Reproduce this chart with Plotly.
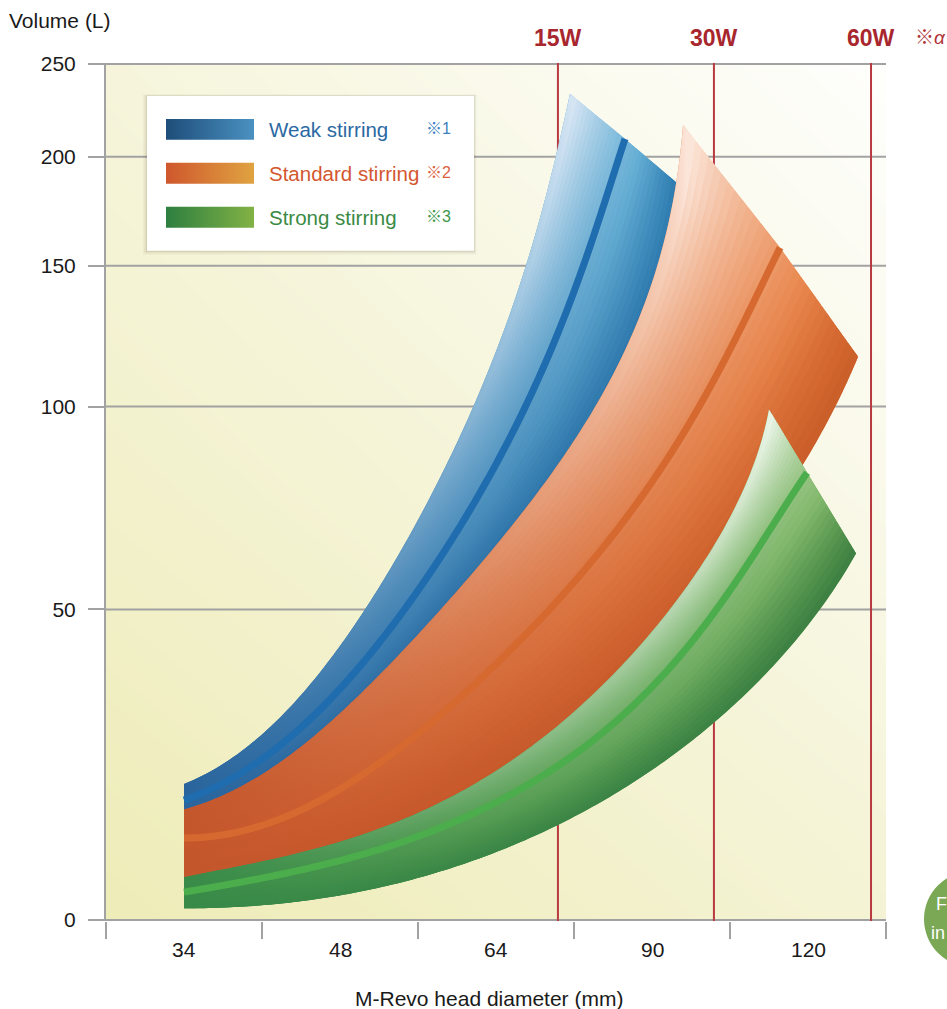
import numpy as np
import plotly.graph_objects as go

# ---------------------------------------------------------------- data
DIAMETER_LABELS = ["34", "48", "64", "90", "120"]          # one slot per head size
VOLUME_TICKS = [0, 50, 100, 150, 200, 250]
VOLUME_TICK_POS = [0, 311, 514, 655, 764, 857]             # stretched volume scale

POWER_LABELS = ["15W", "30W", "60W"]
POWER_X = [2.397, 3.397, 4.404]

SERIES_NAMES = ["Weak stirring", "Standard stirring", "Strong stirring"]
SERIES_NOTES = ["※1", "※2", "※3"]

# each band: upper-left edge, centre stripe, lower-right edge (slot position, litres)
BLUE_UPPER_X = [0, 0.314, 0.622, 0.936, 1.173, 1.519, 1.865, 2.160, 2.391, 2.474]
BLUE_UPPER_V = [21.9, 25.7, 33.1, 42.3, 50.0, 73.9, 100.0, 146.5, 200.0, 233.9]
BLUE_MID_X = [0, 0.487, 0.776, 1.064, 1.417, 1.808, 2.199, 2.526, 2.679, 2.827]
BLUE_MID_V = [19.3, 25.7, 31.8, 38.6, 50.0, 73.9, 100.0, 144.7, 176.1, 209.7]
BLUE_LOWER_X = [0, 0.647, 1.000, 1.353, 1.667, 2.186, 2.712, 3.026, 3.103, 3.173]
BLUE_LOWER_V = [16.4, 24.4, 31.0, 38.7, 48.1, 71.9, 98.3, 141.1, 161.5, 187.2]

ORANGE_UPPER_X = [0, 0.615, 0.968, 1.308, 1.622, 2.141, 2.667, 2.987, 3.160, 3.199]
ORANGE_UPPER_V = [17.8, 25.7, 32.5, 40.2, 49.5, 73.9, 100.0, 144.7, 187.6, 217.2]
ORANGE_MID_X = [0, 0.231, 0.487, 0.936, 1.385, 1.878, 2.378, 2.859, 3.340, 3.596, 3.821]
ORANGE_MID_V = [13.2, 14.0, 15.6, 19.3, 27.7, 38.6, 52.2, 72.4, 105.0, 130.5, 158.3]
ORANGE_LOWER_X = [0, 0.744, 1.385, 2.026, 2.667, 3.179, 3.564, 3.821, 3.968, 4.173, 4.321]
ORANGE_LOWER_V = [6.1, 10.0, 15.4, 23.8, 35.4, 48.2, 63.3, 75.6, 86.0, 102.1, 117.7]

GREEN_UPPER_X = [0, 0.744, 1.385, 2.026, 2.667, 3.308, 3.519, 3.647, 3.750]
GREEN_UPPER_V = [6.9, 10.8, 16.1, 24.4, 37.3, 61.3, 72.7, 86.0, 99.3]
GREEN_MID_X = [0, 0.744, 1.385, 2.026, 2.667, 3.179, 3.500, 3.756, 3.994]
GREEN_MID_V = [4.5, 8.0, 12.5, 19.3, 29.7, 42.6, 54.7, 69.5, 83.7]
GREEN_LOWER_X = [0, 0.487, 1.064, 1.705, 2.346, 2.987, 3.628, 4.013, 4.308]
GREEN_LOWER_V = [1.9, 2.3, 4.3, 8.4, 14.5, 24.1, 37.0, 47.9, 63.8]

# ---------------------------------------------------------------- styling
W, H = 947, 1009
PAPER_TOP, PAPER_H = 10, 989        # paper area sits 10 px inside the page vertically
FONT = "Liberation Sans, Arial, Noto Sans CJK JP, sans-serif"
GRID = "#a2a2a2"
POWER_RED = "#b83a40"

BLUE = dict(base=(42, 100, 156), edge=(40, 116, 170), bright=(72, 160, 204),
            light=(224, 234, 246), gain=0.95, tp=1.7, sp=1.4, stripe="#1f6cae")
ORANGE = dict(base=(196, 86, 44), edge=(200, 92, 40), bright=(229, 114, 46),
              light=(253, 238, 230), gain=0.95, tp=1.7, sp=1.4, stripe="#d6692f")
GREEN = dict(base=(56, 138, 72), edge=(56, 122, 64), bright=(106, 170, 78),
             light=(242, 249, 240), gain=0.95, tp=1.7, sp=1.4, stripe="#4cad4c")

SLOT_PX = 156.0  # one diameter slot on screen, keeps arc lengths isotropic


def vpos(v):
    return np.interp(v, VOLUME_TICKS, VOLUME_TICK_POS)


def px(x):
    return x / W


def py(y):
    return 1 - (y - PAPER_TOP) / PAPER_H


def smooth_curve(xs, vs, n=160):
    """Smooth curve with fixed end points through the edge points, evenly resampled."""
    p = np.column_stack([np.asarray(xs, float) * SLOT_PX, vpos(np.asarray(vs, float))])
    d = np.hypot(np.diff(p[:, 0]), np.diff(p[:, 1]))
    s = np.concatenate([[0], np.cumsum(d)]) / d.sum()
    si = s[1:-1]
    k = min(4, len(p) - 3)
    A = np.column_stack([si * (1 - si) * si ** j for j in range(k)])
    u = np.linspace(0, 1, 600)
    Au = np.column_stack([u * (1 - u) * u ** j for j in range(k)])
    out = []
    for c in range(2):
        chord = p[0, c] + (p[-1, c] - p[0, c]) * si
        coef = np.linalg.lstsq(A, p[1:-1, c] - chord, rcond=None)[0]
        out.append(p[0, c] + (p[-1, c] - p[0, c]) * u + Au @ coef)
    fx, fy = out
    seg = np.hypot(np.diff(fx), np.diff(fy))
    acc = np.concatenate([[0], np.cumsum(seg)])
    acc /= acc[-1]
    t = np.linspace(0, 1, n)
    return np.column_stack([np.interp(t, acc, fx) / SLOT_PX, np.interp(t, acc, fy)])


def rgb(c):
    return "rgb(%d,%d,%d)" % tuple(int(round(v)) for v in c)


def mix(a, b, f):
    return [a[i] + (b[i] - a[i]) * f for i in range(3)]


def tone(pal, t, s):
    lo = mix(pal["base"], pal["edge"], s)
    hi = mix(pal["base"], pal["bright"], s)
    c = mix(lo, hi, min(1.0, t / 0.4))
    return mix(c, pal["light"], pal["gain"] * t ** pal["tp"] * s ** pal["sp"])


def gradient_fill(poly, centre, pal, t):
    n = len(centre)
    x0, x1 = poly[:, 0].min(), poly[:, 0].max()
    stops, last = [], -1.0
    for j in np.linspace(0, n - 1, 16).astype(int):
        pos = (centre[j, 0] - x0) / (x1 - x0)
        if pos <= last + 1e-3:
            continue
        stops.append([float(pos), rgb(tone(pal, t, j / (n - 1)))])
        last = pos
    stops[0][0] = 0.0
    if stops[-1][0] < 1.0:
        stops.append([1.0, stops[-1][1]])
    return dict(type="horizontal", colorscale=stops, start=float(x0), stop=float(x1))


def add_band(fig, upper, mid, lower, pal, strips=30):
    U = smooth_curve(*upper)
    M = smooth_curve(*mid)
    L = smooth_curve(*lower)

    def across(t):
        if t <= 0.5:
            return L + (M - L) * (t / 0.5)
        return M + (U - M) * ((t - 0.5) / 0.5)

    body = np.vstack([L, U[::-1], L[:1]])
    fig.add_trace(go.Scatter(x=body[:, 0], y=body[:, 1], mode="lines",
                             line=dict(width=0, simplify=False),
                             fill="toself", fillgradient=gradient_fill(body, across(0.4), pal, 0.4),
                             hoverinfo="skip", showlegend=False))
    ts = np.linspace(0, 1, strips + 1)
    for k in range(strips):
        a = across(max(ts[k] - 0.03, 0.0))
        b = across(ts[k + 1])
        poly = np.vstack([a, b[::-1], a[:1]])
        tm = 0.5 * (ts[k] + ts[k + 1])
        fig.add_trace(go.Scatter(x=poly[:, 0], y=poly[:, 1], mode="lines",
                                 line=dict(width=0, simplify=False),
                                 fill="toself", fillgradient=gradient_fill(poly, across(tm), pal, tm),
                                 hoverinfo="skip", showlegend=False))
    fig.add_trace(go.Scatter(x=M[:, 0], y=M[:, 1], mode="lines",
                             line=dict(color=pal["stripe"], width=7, simplify=False),
                             hoverinfo="skip", showlegend=False))


fig = go.Figure()

# plot background: warm yellow fading to white toward the upper right
fig.add_trace(go.Heatmap(x=[-0.5, 2.0, 4.5], y=[-1, 428.5, 858],
                         z=[[0.0, 0.22, 0.45], [0.3, 0.52, 0.75], [0.55, 0.78, 1.0]],
                         zmin=0, zmax=1, zsmooth="best", showscale=False, hoverinfo="skip",
                         colorscale=[[0, "#eeecb7"], [0.5, "#f5f4d8"], [1, "#fefefc"]]))

# horizontal grid lines
gx, gy = [], []
for v in VOLUME_TICKS:
    gx += [-0.5, 4.5, None]
    gy += [float(vpos(v)), float(vpos(v)), None]
fig.add_trace(go.Scatter(x=gx, y=gy, mode="lines", line=dict(color=GRID, width=2),
                         hoverinfo="skip", showlegend=False))

# motor power limits
rx, ry = [], []
for xv in POWER_X:
    rx += [xv, xv, None]
    ry += [-1, 858, None]
fig.add_trace(go.Scatter(x=rx, y=ry, mode="lines", line=dict(color=POWER_RED, width=2),
                         hoverinfo="skip", showlegend=False))

add_band(fig, (BLUE_UPPER_X, BLUE_UPPER_V), (BLUE_MID_X, BLUE_MID_V),
         (BLUE_LOWER_X, BLUE_LOWER_V), BLUE)
add_band(fig, (ORANGE_UPPER_X, ORANGE_UPPER_V), (ORANGE_MID_X, ORANGE_MID_V),
         (ORANGE_LOWER_X, ORANGE_LOWER_V), ORANGE)
add_band(fig, (GREEN_UPPER_X, GREEN_UPPER_V), (GREEN_MID_X, GREEN_MID_V),
         (GREEN_LOWER_X, GREEN_LOWER_V), GREEN)


# ---------------------------------------------------------------- key box (screen-space overlay)
def box(x0, y0, x1, y1):
    return [x0, x1, x1, x0, x0], [y0, y0, y1, y1, y0]


for grow, alpha in [(4, 0.04), (2.5, 0.06), (1.2, 0.08)]:
    bx, by = box(147 - grow, 95 - grow * 0.4, 474 + grow * 0.6, 250 + grow)
    fig.add_trace(go.Scatter(x=bx, y=by, xaxis="x2", yaxis="y2", mode="lines", line=dict(width=0),
                             fill="toself", fillcolor="rgba(60,50,20,%.3f)" % alpha,
                             hoverinfo="skip", showlegend=False))
bx, by = box(147, 95, 474, 250)
fig.add_trace(go.Scatter(x=bx, y=by, xaxis="x2", yaxis="y2", mode="lines", line=dict(width=0),
                         fill="toself", fillcolor="white", hoverinfo="skip", showlegend=False))

SWATCHES = [("#1e4d79", "#4a91c1"), ("#cf572d", "#e0a341"), ("#2d7f40", "#82b245")]
TEXT_COLORS = ["#2b69a3", "#d4572f", "#3a8a44"]
NOTE_COLORS = ["#3a80c0", "#dc5f3a", "#3c9648"]
ROW_Y = [128.5, 172.5, 216.5]
for i, name in enumerate(SERIES_NAMES):
    yc = ROW_Y[i]
    sx, sy = box(166, yc - 10.5, 254, yc + 10.5)
    fig.add_trace(go.Scatter(x=sx, y=sy, xaxis="x2", yaxis="y2", mode="lines", line=dict(width=0),
                             fill="toself",
                             fillgradient=dict(type="horizontal",
                                               colorscale=[[0, SWATCHES[i][0]], [1, SWATCHES[i][1]]],
                                               start=166, stop=254),
                             hoverinfo="skip", showlegend=False))

annotations = []
for i, name in enumerate(SERIES_NAMES):
    annotations.append(dict(x=px(267), y=py(ROW_Y[i]), xref="paper", yref="paper", text=name,
                            showarrow=False, xanchor="left", yanchor="middle",
                            font=dict(family=FONT, size=20.5, color=TEXT_COLORS[i])))
    annotations.append(dict(x=px(424), y=py(ROW_Y[i] - 1), xref="paper", yref="paper",
                            text=SERIES_NOTES[i], showarrow=False, xanchor="left", yanchor="middle",
                            font=dict(family=FONT, size=16, color=NOTE_COLORS[i])))

# slot labels under the axis
for i, lab in enumerate(DIAMETER_LABELS):
    annotations.append(dict(x=i, y=py(949), xref="x", yref="paper", text=lab, showarrow=False,
                            xanchor="center", yanchor="middle",
                            font=dict(family=FONT, size=21, color="#1a1a1a")))

for lab, xv in zip(POWER_LABELS, POWER_X):
    annotations.append(dict(x=xv, y=py(37), xref="x", yref="paper", text="<b>%s</b>" % lab,
                            showarrow=False, xanchor="center", yanchor="middle",
                            font=dict(family=FONT, size=23, color="#a8262d")))
annotations.append(dict(x=px(913), y=py(37), xref="paper", yref="paper", text="※<i>α</i>",
                        showarrow=False, xanchor="left", yanchor="middle",
                        font=dict(family=FONT, size=19, color="#b0333a")))
annotations.append(dict(x=px(7), y=py(20), xref="paper", yref="paper", text="Volume (L)",
                        showarrow=False, xanchor="left", yanchor="middle",
                        font=dict(family=FONT, size=21, color="#1a1a1a")))
annotations.append(dict(x=px(489), y=py(998), xref="paper", yref="paper",
                        text="M-Revo head diameter (mm)", showarrow=False,
                        xanchor="center", yanchor="middle",
                        font=dict(family=FONT, size=21, color="#1a1a1a")))
# badge at the right margin
annotations.append(dict(x=px(934), y=py(904), xref="paper", yref="paper", text="F",
                        showarrow=False, xanchor="left", yanchor="middle",
                        font=dict(family=FONT, size=18, color="white")))
annotations.append(dict(x=px(929), y=py(933), xref="paper", yref="paper", text="in",
                        showarrow=False, xanchor="left", yanchor="middle",
                        font=dict(family=FONT, size=18, color="white")))

fig.update_layout(
    width=W, height=H, margin=dict(l=0, r=0, t=0, b=0),
    paper_bgcolor="white", plot_bgcolor="rgba(0,0,0,0)", showlegend=False,
    font=dict(family=FONT, color="#1a1a1a"),
    xaxis=dict(domain=[px(106), px(886)], range=[-0.5, 4.5], showgrid=False, zeroline=False,
               showline=False, tickmode="array", tickvals=[-0.5, 0.5, 1.5, 2.5, 3.5, 4.5],
               ticks="outside", ticklen=17, tickwidth=2, tickcolor=GRID, showticklabels=False,
               fixedrange=True),
    yaxis=dict(domain=[py(921), py(62)], range=[-1, 858], showgrid=False, zeroline=False,
               showline=True, linecolor=GRID, linewidth=2, tickmode="array",
               tickvals=[float(v) for v in vpos(VOLUME_TICKS)],
               ticktext=[str(v) for v in VOLUME_TICKS], ticks="outside", ticklen=16,
               tickwidth=2, tickcolor=GRID, ticklabelstandoff=8,
               tickfont=dict(family=FONT, size=21, color="#1a1a1a"), fixedrange=True),
    xaxis2=dict(domain=[0, 1], range=[0, W], anchor="y2", visible=False, fixedrange=True),
    yaxis2=dict(domain=[0, 1], range=[PAPER_TOP + PAPER_H, PAPER_TOP], anchor="x2",
                visible=False, fixedrange=True),
    annotations=annotations,
    shapes=[dict(type="circle", xref="paper", yref="paper", x0=px(924), x1=px(1020),
                 y0=py(967), y1=py(871), fillcolor="#7aa855", line=dict(width=0), layer="below")],
)

fig.write_html("out.html")
